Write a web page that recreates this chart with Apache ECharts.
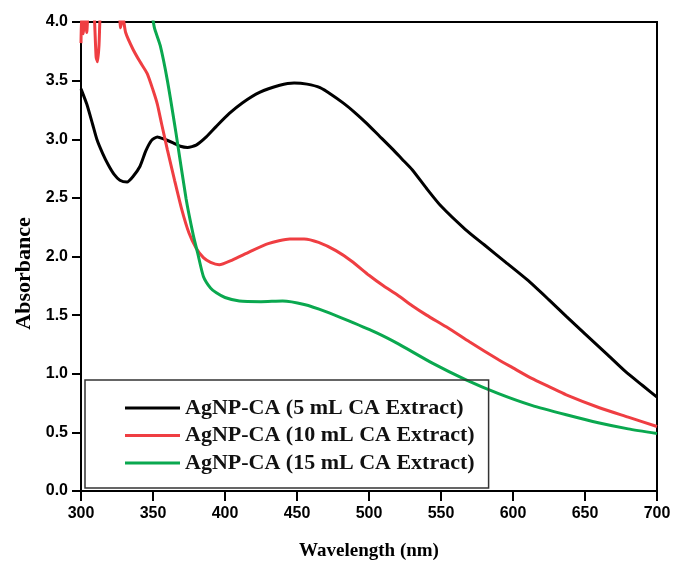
<!DOCTYPE html>
<html>
<head>
<meta charset="utf-8">
<script src="https://cdn.jsdelivr.net/npm/echarts@6/dist/echarts.min.js"></script>
<style>
  html, body { margin: 0; padding: 0; background: #fff; }
  #chart { width: 674px; height: 562px; }
</style>
</head>
<body>
<div id="chart"></div>
<script>
// values
const seriesNames = [
  "AgNP-CA (5 mL CA Extract)",
  "AgNP-CA (10 mL CA Extract)",
  "AgNP-CA (15 mL CA Extract)"
];

const wl5 = [300, 304, 308, 311, 315, 319, 323, 327, 332, 336, 341, 345, 349, 353, 358, 364, 369, 374, 380, 387,
  394, 403, 412, 424, 438, 448, 457, 466, 474, 482, 490, 498, 507, 516, 523, 530, 540, 550, 567, 580,
  595, 610, 625, 637, 650, 665, 678, 690, 700];
const abs5 = [3.43, 3.30, 3.13, 3.00, 2.88, 2.78, 2.70, 2.65, 2.635, 2.68, 2.77, 2.90, 2.99, 3.02, 3.00, 2.97, 2.94, 2.93, 2.95, 3.02,
  3.11, 3.22, 3.31, 3.40, 3.46, 3.48, 3.47, 3.44, 3.38, 3.31, 3.23, 3.14, 3.03, 2.92, 2.83, 2.74, 2.58, 2.43, 2.23, 2.10,
  1.95, 1.80, 1.63, 1.49, 1.34, 1.17, 1.02, 0.90, 0.80];

const wl10 = [300, 300.5, 301.5, 303, 304, 305, 307, 309, 310.5, 311.5, 312.5, 314, 318, 322, 326, 327.5, 329, 331, 336, 341,
  346, 350, 353, 356, 360, 365, 370, 375, 380, 385, 390, 396, 405, 417, 430, 445, 455, 465, 477, 488,
  500, 510, 520, 530, 540, 555, 570, 590, 600, 613, 625, 637, 660, 680, 700];
const abs10 = [3.82, 4.1, 3.9, 4.1, 3.91, 4.1, 4.2, 4.1, 3.7, 3.66, 3.8, 4.2, 4.3, 4.3, 4.2, 3.95, 4.05, 3.91, 3.77, 3.66,
  3.56, 3.42, 3.30, 3.13, 2.91, 2.65, 2.40, 2.20, 2.07, 1.99, 1.95, 1.93, 1.97, 2.04, 2.11, 2.15, 2.15, 2.12, 2.05, 1.96,
  1.84, 1.75, 1.67, 1.58, 1.50, 1.39, 1.27, 1.12, 1.05, 0.96, 0.89, 0.82, 0.71, 0.63, 0.55];

const wl15 = [349, 351, 355, 360, 366, 373, 378, 381, 385, 390, 394, 400, 410, 425, 440, 455, 470, 486, 505, 521,
  544, 567, 590, 613, 637, 660, 680, 700];
const abs15 = [4.1, 3.95, 3.80, 3.50, 3.05, 2.49, 2.18, 2.03, 1.83, 1.73, 1.69, 1.65, 1.62, 1.615, 1.62, 1.59, 1.53, 1.45, 1.35, 1.25,
  1.09, 0.95, 0.83, 0.73, 0.65, 0.58, 0.53, 0.49];

const colors = ["#000000", "#ef3e42", "#0aa84f"];

function pairs(xs, ys) {
  return xs.map((x, i) => [x, ys[i]]);
}

const allData = [pairs(wl5, abs5), pairs(wl10, abs10), pairs(wl15, abs15)];

const chart = echarts.init(document.getElementById("chart"));

const tickFont = {
  fontFamily: "Liberation Sans",
  fontWeight: "bold",
  fontSize: 16,
  color: "#000"
};

chart.setOption({
  animation: false,
  backgroundColor: "#fff",
  grid: {
    left: 81,
    right: 17,
    top: 22,
    bottom: 71,
    containLabel: false,
    outerBoundsMode: "none",
    show: true,
    borderColor: "#000",
    borderWidth: 2
  },
  legend: {
    orient: "vertical",
    left: 85,
    top: 380,
    padding: [17, 14, 14, 40],
    icon: "rect",
    itemWidth: 55,
    itemHeight: 3,
    itemGap: 5.5,
    borderColor: "#333",
    borderWidth: 1.5,
    selectedMode: false,
    data: seriesNames,
    textStyle: {
      fontFamily: "Liberation Serif",
      fontWeight: "bold",
      fontSize: 22,
      lineHeight: 22,
      color: "#111"
    }
  },
  xAxis: {
    type: "value",
    min: 300,
    max: 700,
    interval: 50,
    name: "Wavelength (nm)",
    nameLocation: "middle",
    nameGap: 51,
    nameTextStyle: {
      fontFamily: "Liberation Serif",
      fontWeight: "bold",
      fontSize: 19,
      color: "#000",
      verticalAlign: "top"
    },
    axisLine: { show: true, lineStyle: { color: "#000", width: 2 } },
    axisTick: { show: true, inside: false, length: 10, lineStyle: { color: "#000", width: 2 } },
    axisLabel: Object.assign({ margin: 15 }, tickFont),
    splitLine: { show: false }
  },
  yAxis: {
    type: "value",
    min: 0,
    max: 4,
    interval: 0.5,
    name: "Absorbance",
    nameLocation: "middle",
    nameGap: 46,
    nameTextStyle: {
      fontFamily: "Liberation Serif",
      fontWeight: "bold",
      fontSize: 22,
      color: "#000",
      padding: [0, 34, 0, 0]
    },
    axisLine: { show: true, lineStyle: { color: "#000", width: 2 } },
    axisTick: { show: true, inside: false, length: 9, lineStyle: { color: "#000", width: 2 } },
    axisLabel: Object.assign({
      margin: 13,
      formatter: function (v) {
        return v.toFixed(1);
      }
    }, tickFont),
    splitLine: { show: false }
  },
  series: seriesNames.map((name, i) => ({
    name: name,
    type: "line",
    data: allData[i],
    symbol: "none",
    showSymbol: false,
    smooth: 0.2,
    clip: true,
    color: colors[i],
    lineStyle: { color: colors[i], width: 3 }
  }))
});
</script>
</body>
</html>
